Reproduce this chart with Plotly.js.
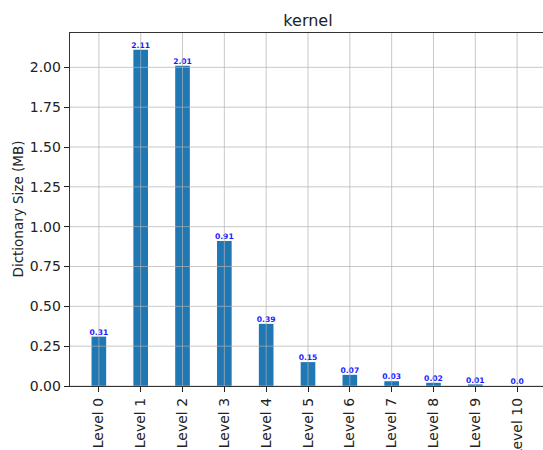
<!DOCTYPE html>
<html>
<head>
<meta charset="utf-8">
<script src="https://cdn.plot.ly/plotly-3.0.1.min.js"></script>
<style>
html,body{margin:0;padding:0;overflow:hidden;background:#fff;}
#chart{width:550px;height:450px;}
</style>
</head>
<body>
<div id="chart"></div>
<script>
const categories = ["Level 0","Level 1","Level 2","Level 3","Level 4","Level 5","Level 6","Level 7","Level 8","Level 9","Level 10"];
const sizesMB = [0.31, 2.11, 2.01, 0.91, 0.39, 0.15, 0.07, 0.03, 0.02, 0.01, 0.0];
const barLabels = ["0.31","2.11","2.01","0.91","0.39","0.15","0.07","0.03","0.02","0.01","0.0"];
const yTickVals = [0, 0.25, 0.5, 0.75, 1.0, 1.25, 1.5, 1.75, 2.0];
const yTickText = ["0.00","0.25","0.50","0.75","1.00","1.25","1.50","1.75","2.00"];

const FONT = "DejaVu Sans, sans-serif";
const gridColor = "rgba(176,176,176,0.7)";

const traces = [
  {
    type: "bar",
    x: categories,
    y: sizesMB,
    width: 0.35,
    marker: {color: "#1f77b4", line: {width: 0}},
    hoverinfo: "x+y"
  },
  {
    type: "scatter",
    mode: "text",
    x: categories,
    y: sizesMB,
    text: barLabels,
    textposition: "top center",
    textfont: {family: FONT, size: 7.6, color: "#1a1aff", weight: "bold"},
    hoverinfo: "skip",
    cliponaxis: false
  }
];

const shapes = [];
categories.forEach(c => {
  shapes.push({type: "line", layer: "above", xref: "x", yref: "paper", x0: c, x1: c, y0: 0, y1: 1,
               line: {color: gridColor, width: 1}});
});
yTickVals.forEach(v => {
  shapes.push({type: "line", layer: "above", xref: "paper", yref: "y", x0: 0, x1: 1, y0: v, y1: v,
               line: {color: gridColor, width: 1}});
});

const ymax = Math.max(...sizesMB) * 1.05;

const layout = {
  width: 550,
  height: 450,
  margin: {l: 70, r: 4, t: 33, b: 64, pad: 0},
  paper_bgcolor: "#ffffff",
  plot_bgcolor: "#ffffff",
  showlegend: false,
  font: {family: FONT, size: 14, color: "#222"},
  title: {
    text: "kernel",
    font: {family: FONT, size: 16, color: "#222"},
    xref: "paper", x: 0.5, xanchor: "center",
    yref: "container", y: 1 - 20/450, yanchor: "middle"
  },
  xaxis: {
    type: "category",
    range: [-0.69, 10.69],
    tickangle: -90,
    ticks: "outside", ticklen: 5, tickwidth: 1, tickcolor: "#222",
    showgrid: false, zeroline: false,
    showline: true, linecolor: "#333", linewidth: 1.3, mirror: true,
    layer: "above traces",
    tickfont: {family: FONT, size: 14, color: "#222"},
    automargin: false,
    fixedrange: true
  },
  yaxis: {
    range: [0, ymax],
    tickvals: yTickVals,
    ticktext: yTickText,
    ticks: "outside", ticklen: 5, tickwidth: 1, tickcolor: "#222",
    showgrid: false, zeroline: false,
    showline: true, linecolor: "#333", linewidth: 1.3, mirror: true,
    layer: "above traces",
    tickfont: {family: FONT, size: 14, color: "#222"},
    automargin: false,
    fixedrange: true
  },
  annotations: [{
    text: "Dictionary Size (MB)",
    xref: "paper", yref: "paper",
    x: -(70 - 17) / 476, y: 0.5,
    xanchor: "center", yanchor: "middle",
    textangle: -90, showarrow: false,
    font: {family: FONT, size: 13.5, color: "#222"}
  }],
  shapes: shapes
};

Plotly.newPlot("chart", traces, layout, {displayModeBar: false, staticPlot: true});
</script>
</body>
</html>
